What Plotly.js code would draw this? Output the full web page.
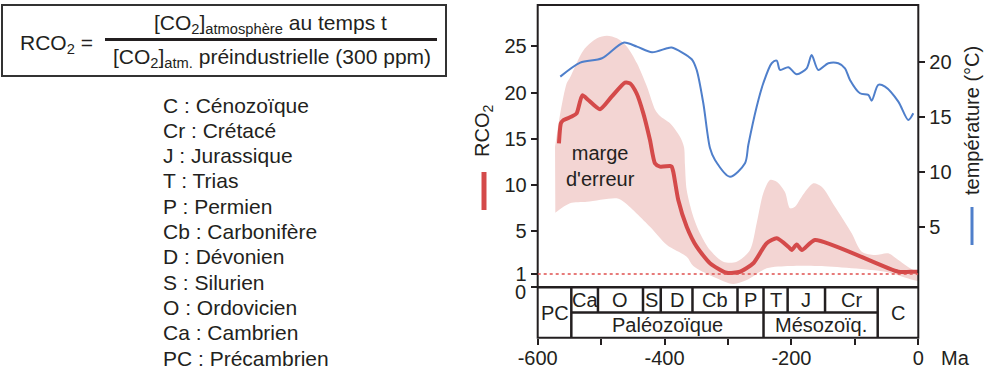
<!DOCTYPE html>
<html>
<head>
<meta charset="utf-8">
<script src="https://cdn.plot.ly/plotly-3.0.1.min.js"></script>
<style>html,body{margin:0;padding:0;background:#fff;}#chart{width:989px;height:370px;}</style>
</head>
<body>
<div id="chart"></div>
<script>
// ---------- DATA ----------
// RCO2 (ratio) vs age (Ma)
const rcoAge = [-566.5,-563.3,-559.7,-546.4,-538.6,-529.7,-520.3,-501.8,-483.4,-462.4,-454.5,-444.0,-433.5,-423.0,-415.1,-407.2,-391.4,-388.8,-386.3,-378.4,-365.1,-349.4,-328.4,-302.1,-281.1,-260.1,-239.0,-223.2,-205.0,-199.6,-191.7,-183.4,-162.9,-31.5,-7.9,0];
const rcoVal = [14.5,16.7,17.0,17.4,17.75,19.7,19.2,18.2,19.55,21.07,21.0,19.9,17.75,14.86,12.33,11.97,12.04,11.97,11.42,8.36,5.47,3.54,2.0,1.12,1.21,2.0,3.86,4.32,3.54,3.23,3.75,3.23,4.16,1.21,1.21,1.21];
// error band (marge d'erreur): upper and lower limits
const bandUpAge = [-572.7,-564.4,-554.3,-548.6,-527.8,-506.5,-490.8,-475.0,-459.3,-443.5,-427.7,-414.6,-407.2,-391.4,-375.7,-369.4,-367.8,-365.1,-354.7,-344.2,-328.4,-307.4,-286.3,-265.3,-254.8,-244.4,-233.8,-223.2,-210.2,-202.3,-194.4,-183.8,-165.5,-152.3,-131.3,-105.0,-89.2,-68.3,-47.3,-31.5,-7.9,0];
const bandUpVal = [14.13,17.75,21.0,21.7,24.6,25.9,26.16,25.88,24.97,23.17,20.63,18.1,17.46,16.67,15.22,14.1,12.15,9.44,6.55,4.79,3.23,2.14,2.14,3.23,5.83,9.08,10.53,10.34,9.23,7.46,7.63,8.72,10.17,9.80,7.63,4.79,3.08,2.77,2.92,2.30,1.37,1.3];
const bandLoAge = [-572.2,-549.1,-522.3,-475.5,-464.5,-423.0,-396.2,-365.1,-354.7,-323.2,-291.7,-270.5,-239.0,-202.3,-157.7,-52.5,-7.9,0];
const bandLoVal = [6.98,8.0,8.17,8.54,8.17,5.47,3.70,2.61,1.75,0.80,0.25,0.55,1.53,1.75,1.75,1.21,0.55,0.5];
// temperature (°C)
const tempAge = [-564.4,-532.9,-498.7,-464.8,-443.5,-419.8,-396.2,-388.8,-357.2,-349.4,-338.9,-328.4,-320.5,-296.9,-273.2,-268.0,-254.8,-244.4,-231.1,-223.2,-218.0,-205.0,-191.7,-175.9,-168.1,-157.7,-141.9,-126.1,-115.6,-107.7,-91.9,-78.8,-73.5,-63.1,-52.5,-31.5,-15.8,-7.9];
const tempVal = [18.69,19.96,20.36,21.78,21.42,20.91,21.27,21.33,20.27,19.30,16.27,12.21,11.12,9.60,10.82,12.48,15.96,18.09,19.91,20.15,19.3,19.55,18.91,19.45,20.66,19.3,19.91,19.91,19.45,18.39,17.18,17.03,16.51,17.94,17.78,16.42,14.75,15.36];
// tick labels
const rcoTicks = [0,1,5,10,15,20,25];
const rcoTickText = ['','1','5','10','15','20','25']; // "0" is placed just below its tick, as in the original
const tempTicks = [5,10,15,20];
const ageTicks = [-600,-500,-400,-300,-200,-100,0];
const ageTickText = ['-600','','-400','','-200','','0'];
// geological time scale
const periodNames = ['PC','Ca','O','S','D','Cb','P','T','J','Cr','C'];
const periodBounds = [-600,-547,-505,-434,-406,-356,-285,-244,-206,-147,-64,0];
const eraNames = ['Paléozoïque','Mésozoïq.'];
const eraBounds = [-547,-244,-64];
const legendLines = ['C : Cénozoïque','Cr : Crétacé','J : Jurassique','T : Trias','P : Permien','Cb : Carbonifère','D : Dévonien','S : Silurien','O : Ordovicien','Ca : Cambrien','PC : Précambrien'];

// ---------- HELPERS ----------
const W = 989, H = 370;
const px = x => x / W;
const py = y => 1 - y / H;
// stretched low part of the RCO2 axis (as in the original figure)
function rAxis(v){ if (v >= 5) return v; if (v >= 1) return 5 - (5 - v) * 1.165; return 0.34 - (1 - v) * 1.44; }

const FONT = 'Arial, "Liberation Sans", sans-serif';
const TXT = '#231f20';
const RED = '#d44a4a';
const PINK = '#f3d5d3';
const BLUE = '#4f7fcb';

const traces = [];
// band polygon
traces.push({
  x: bandUpAge.concat(bandLoAge.slice().reverse()),
  y: bandUpVal.concat(bandLoVal.slice().reverse()).map(rAxis),
  type: 'scatter', mode: 'lines', fill: 'toself', fillcolor: PINK,
  line: {width: 0, color: PINK, shape: 'spline', smoothing: 0.8},
  xaxis: 'x', yaxis: 'y', hoverinfo: 'skip'
});
traces.push({
  x: rcoAge, y: rcoVal.map(rAxis), type: 'scatter', mode: 'lines',
  line: {color: RED, width: 4, shape: 'spline', smoothing: 0.6},
  xaxis: 'x', yaxis: 'y'
});
traces.push({
  x: tempAge, y: tempVal, type: 'scatter', mode: 'lines',
  line: {color: BLUE, width: 2, shape: 'spline', smoothing: 0.8},
  xaxis: 'x', yaxis: 'y2'
});

const shapes = [];
const annotations = [];
const frameX0 = px(537.7), frameX1 = px(918.3);
// outer frame
shapes.push({type: 'rect', xref: 'paper', yref: 'paper', x0: frameX0, x1: frameX1, y0: py(337.7), y1: py(5), line: {color: TXT, width: 2}});
// divider between plot and time scale
shapes.push({type: 'line', xref: 'paper', yref: 'paper', x0: frameX0, x1: frameX1, y0: py(287.3), y1: py(287.3), line: {color: TXT, width: 2.5}});
// RCO2 = 1 dashed line
shapes.push({type: 'line', xref: 'x', yref: 'y', x0: -600, x1: 0, y0: rAxis(1), y1: rAxis(1), line: {color: '#e0504f', width: 1.5, dash: '3px,3px'}});

// time scale
for (let i = 1; i < periodBounds.length - 1; i++) {
  const b = periodBounds[i];
  const full = (b === eraBounds[0] || b === eraBounds[1] || b === eraBounds[2]);
  shapes.push({type: 'line', xref: 'x', yref: 'y3', x0: b, x1: b, y0: full ? 0 : 1, y1: 2, line: {color: TXT, width: 2.5}});
}
shapes.push({type: 'line', xref: 'x', yref: 'y3', x0: eraBounds[0], x1: eraBounds[2], y0: 1, y1: 1, line: {color: TXT, width: 2.5}});
periodNames.forEach((n, i) => {
  const c = (periodBounds[i] + periodBounds[i + 1]) / 2;
  const spanning = (i === 0 || i === periodNames.length - 1);
  annotations.push({xref: 'x', yref: 'y3', x: c, y: spanning ? 1 : 1.5, text: n, showarrow: false, font: {size: 20, color: TXT, family: FONT}, xanchor: 'center', yanchor: 'middle'});
});
eraNames.forEach((n, i) => {
  annotations.push({xref: 'x', yref: 'y3', x: (eraBounds[i] + eraBounds[i + 1]) / 2, y: 0.5, text: n, showarrow: false, font: {size: 20, color: TXT, family: FONT}, xanchor: 'center', yanchor: 'middle'});
});

// "0" label of the RCO2 axis, slightly below its tick
annotations.push({xref: 'paper', yref: 'paper', x: px(528), y: py(292), text: String(rcoTicks[0]), showarrow: false, font: {size: 20, color: TXT, family: FONT}, xanchor: 'right', yanchor: 'middle'});

// axis titles with colour keys
annotations.push({xref: 'paper', yref: 'paper', x: px(484), y: py(131), text: 'RCO<sub>2</sub>', textangle: -90, showarrow: false, font: {size: 20, color: TXT, family: FONT}, xanchor: 'center', yanchor: 'middle'});
shapes.push({type: 'line', xref: 'paper', yref: 'paper', x0: px(484), x1: px(484), y0: py(172), y1: py(210), line: {color: RED, width: 5}});
annotations.push({xref: 'paper', yref: 'paper', x: px(972), y: py(121), text: 'température (°C)', textangle: -90, showarrow: false, font: {size: 20, color: TXT, family: FONT}, xanchor: 'center', yanchor: 'middle'});
shapes.push({type: 'line', xref: 'paper', yref: 'paper', x0: px(972), x1: px(972), y0: py(207), y1: py(245), line: {color: BLUE, width: 3}});
annotations.push({xref: 'paper', yref: 'paper', x: px(955), y: py(357.5), text: 'Ma', showarrow: false, font: {size: 20, color: TXT, family: FONT}, xanchor: 'center', yanchor: 'middle'});
annotations.push({xref: 'paper', yref: 'paper', x: px(600), y: py(166), text: "marge<br>d'erreur", showarrow: false, font: {size: 20, color: TXT, family: FONT}, xanchor: 'center', yanchor: 'middle'});

// formula box
shapes.push({type: 'rect', xref: 'paper', yref: 'paper', x0: px(2), x1: px(446), y0: py(76), y1: py(5), line: {color: '#333', width: 2}});
shapes.push({type: 'line', xref: 'paper', yref: 'paper', x0: px(105), x1: px(437), y0: py(39.5), y1: py(39.5), line: {color: TXT, width: 3}});
annotations.push({xref: 'paper', yref: 'paper', x: px(56), y: py(44), text: 'RCO<sub>2</sub> =', showarrow: false, font: {size: 21, color: TXT, family: FONT}, xanchor: 'center', yanchor: 'middle'});
annotations.push({xref: 'paper', yref: 'paper', x: px(270), y: py(24), text: '[CO<sub>2</sub>]<sub>atmosphère</sub> au temps t', showarrow: false, font: {size: 21, color: TXT, family: FONT}, xanchor: 'center', yanchor: 'middle'});
annotations.push({xref: 'paper', yref: 'paper', x: px(272), y: py(58), text: '[CO<sub>2</sub>]<sub>atm.</sub> préindustrielle (300 ppm)', showarrow: false, font: {size: 21, color: TXT, family: FONT}, xanchor: 'center', yanchor: 'middle'});

// legend list
legendLines.forEach((t, i) => {
  annotations.push({xref: 'paper', yref: 'paper', x: px(161), y: py(105 + i * 25.3), text: t, showarrow: false, font: {size: 21, color: TXT, family: FONT}, xanchor: 'left', yanchor: 'middle'});
});

const tickFont = {size: 20, color: TXT, family: FONT};
const layout = {
  width: W, height: H,
  margin: {l: 0, r: 0, t: 0, b: 0, pad: 0},
  paper_bgcolor: '#fff', plot_bgcolor: 'rgba(0,0,0,0)',
  showlegend: false,
  font: {family: FONT, color: TXT},
  xaxis: {domain: [frameX0, frameX1], range: [-600, 0], anchor: 'y3',
    tickmode: 'array', tickvals: ageTicks, ticktext: ageTickText,
    ticks: 'outside', ticklen: 6, tickwidth: 2, tickcolor: TXT, tickfont: tickFont,
    ticklabelstandoff: -4,
    showgrid: false, zeroline: false, showline: false},
  yaxis: {domain: [py(287.3), py(5)], range: [rAxis(0), 29.49], anchor: 'x',
    tickmode: 'array', tickvals: rcoTicks.map(rAxis), ticktext: rcoTickText,
    ticks: 'outside', ticklen: 6, tickwidth: 2, tickcolor: TXT, tickfont: tickFont,
    showgrid: false, zeroline: false, showline: false},
  yaxis2: {overlaying: 'y', side: 'right', anchor: 'x', range: [-0.45, 25.2],
    tickmode: 'array', tickvals: tempTicks,
    ticks: 'outside', ticklen: 6, tickwidth: 2, tickcolor: TXT, tickfont: tickFont,
    showgrid: false, zeroline: false, showline: false},
  yaxis3: {domain: [py(337.7), py(287.3)], range: [0, 2], anchor: 'x',
    showticklabels: false, ticks: '', showgrid: false, zeroline: false, showline: false},
  shapes: shapes,
  annotations: annotations
};
Plotly.newPlot('chart', traces, layout, {staticPlot: true, displayModeBar: false});
</script>
</body>
</html>
